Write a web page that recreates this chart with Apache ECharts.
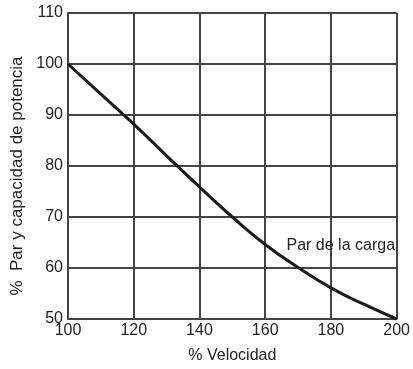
<!DOCTYPE html>
<html>
<head>
<meta charset="utf-8">
<script src="https://cdn.jsdelivr.net/npm/echarts@6/dist/echarts.min.js"></script>
<style>html,body{margin:0;padding:0;background:#fff;}#c{width:413px;height:369px;}</style>
</head>
<body>
<div id="c"></div>
<script>
var velocidad = [100, 110, 120, 130, 140, 150, 160, 170, 180, 190, 200];
var parCarga = [100, 94.1, 88.2, 82.0, 75.9, 70.0, 64.6, 60.1, 56.1, 52.9, 50];
var xTicks = [100, 120, 140, 160, 180, 200];
var yTicks = [50, 60, 70, 80, 90, 100, 110];
var xName = '% Velocidad';
var yName = '%  Par y capacidad de potencia';
var curveLabel = 'Par de la carga';
var labelPos = [183, 64.4];

var chart = echarts.init(document.getElementById('c'));
var font = 'Liberation Sans, Arial, sans-serif';
var lineCol = '#444';
var txtCol = '#222';
chart.setOption({
  animation: false,
  grid: {left: 68, right: 14, top: 13, bottom: 48, containLabel: false},
  xAxis: {
    type: 'value', min: xTicks[0], max: xTicks[xTicks.length - 1], interval: 20,
    name: xName, nameLocation: 'middle', nameGap: 29,
    nameTextStyle: {fontFamily: font, fontSize: 16, color: txtCol},
    axisLine: {show: true, lineStyle: {color: lineCol, width: 2}},
    axisTick: {show: false},
    axisLabel: {fontFamily: font, fontSize: 16, color: txtCol, margin: 4},
    splitLine: {show: true, lineStyle: {color: lineCol, width: 2}}
  },
  yAxis: {
    type: 'value', min: yTicks[0], max: yTicks[yTicks.length - 1], interval: 10,
    name: yName, nameLocation: 'middle', nameGap: 39, nameRotate: 90,
    nameTextStyle: {fontFamily: font, fontSize: 17, color: txtCol, padding: [0, 20, 0, 0]},
    axisLine: {show: true, lineStyle: {color: lineCol, width: 2}},
    axisTick: {show: false},
    axisLabel: {fontFamily: font, fontSize: 16, color: txtCol, margin: 5},
    splitLine: {show: true, lineStyle: {color: lineCol, width: 2}}
  },
  series: [{
    type: 'line',
    data: velocidad.map(function (v, i) { return [v, parCarga[i]]; }),
    smooth: true,
    showSymbol: false,
    lineStyle: {color: '#1a1a1a', width: 3}
  }, {
    type: 'scatter',
    data: [labelPos],
    symbolSize: 0,
    itemStyle: {color: '#222'},
    label: {show: true, position: 'inside', formatter: curveLabel, fontFamily: font, fontSize: 16,
            color: txtCol, textBorderWidth: 0, textBorderColor: 'transparent', opacity: 1}
  }]
});
</script>
</body>
</html>
